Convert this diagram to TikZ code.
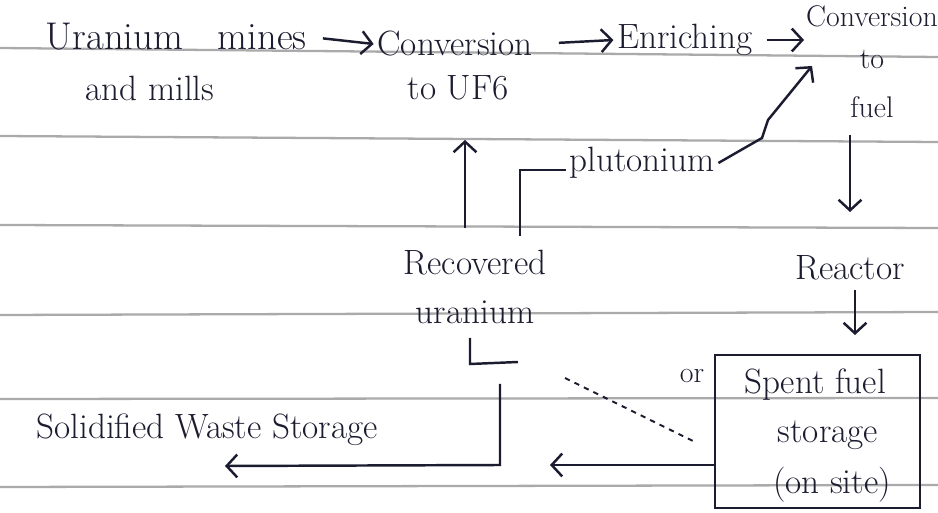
\documentclass[tikz,border=0pt]{standalone}
\usetikzlibrary{arrows.meta}
\definecolor{ink}{RGB}{28,28,48}
\definecolor{ruling}{RGB}{170,170,170}
\tikzset{
  lbl/.style={font=\fontsize{20}{38}\selectfont, text=ink, inner sep=2pt, align=center},
  small/.style={font=\fontsize{17}{36}\selectfont, text=ink, inner sep=1pt, align=center},
  flow/.style={draw=ink, line width=1.4pt, -{Straight Barb[length=6pt,width=13pt,line width=1.4pt]}},
  stroke/.style={draw=ink, line width=1.4pt},
  ruleline/.style={draw=ruling, line width=1.3pt},
  storebox/.style={draw=ink, line width=1.3pt, minimum width=4.1cm, minimum height=3.06cm, inner sep=0pt}
}
\begin{document}
\begin{tikzpicture}[x=0.02cm,y=-0.02cm]
\useasboundingbox (0,0) rectangle (938,513);
\fill[white] (0,0) rectangle (938,513);
% ruled paper
\draw[ruleline] (0,48) -- (938,57);
\draw[ruleline] (0,136) -- (938,142);
\draw[ruleline] (0,225) -- (938,228);
\draw[ruleline] (0,315) -- (938,312);
\draw[ruleline] (0,399) -- (938,398);
\draw[ruleline] (0,487) -- (938,485);

% nodes
\node[lbl, anchor=west, font=\fontsize{22}{38}\selectfont] (mines) at (42,37) {Uranium\hspace{0.9em}mines};
\node[lbl] (mills) at (150,88) {and mills};
\node[lbl] (conv) at (455,44) {Conversion};
\node[lbl] (uf6) at (458,88) {to UF6};
\node[lbl] (enr) at (685,40) {Enriching};
\node[small] (cfuel) at (872,62) {Conversion\\[-12pt]to\\[-8pt]fuel};
\node[lbl] (reactor) at (850,268) {Reactor};
\node[lbl] (rec) at (475,287) {Recovered\\[-10pt]uranium};
\node[storebox] (box) at (817.5,431.5) {};
\node[lbl] (spent) at (815,385) {Spent fuel};
\node[lbl] (stor) at (828,435) {storage};
\node[lbl] (site) at (832,485) {(on site)};
\node[small] (or) at (692,376) {or};
\node[lbl] (pu) at (642,163) {plutonium};
\node[lbl] (waste) at (207,430) {Solidified Waste Storage};

% top row arrows
\draw[flow, shorten <=0.25cm] (mines.east) -- (conv.west);
\draw[flow, shorten <=0.45cm] (conv.east) -- (enr.west);
\draw[flow, shorten <=0.2cm] (enr.east) -- (cfuel.west |- enr.east);
% fuel -> reactor -> storage
\coordinate (fTop) at (850,135);
\coordinate (fTip) at (850,212);
\draw[flow] (fTop) -- (fTip);
\coordinate (rTip) at (855,335);
\draw[flow] (reactor.south -| rTip) ++(0,6) -- (rTip);

% recovered uranium up to conversion
\coordinate (upTop) at (465,140);
\draw[flow] (rec.north -| upTop) ++(0,-18) -- (upTop);
% plutonium branch
\coordinate (pu0) at (520,236);
\coordinate (pu1) at (520,170);
\draw[stroke] (pu0) -- (pu1) -- (pu.west |- pu1);
\coordinate (puTip) at (812,66);
\draw[flow] (pu.east) -- (748,146) -- (762,138) -- (768,120) -- (puTip);

% L mark under recovered uranium
\draw[stroke] (470,338) -- (470,364) -- (518,362);
% waste route
\coordinate (w0) at (500,384);
\coordinate (w1) at (500,465);
\coordinate (wTip) at (225,466);
\draw[flow] (w0) -- (w1) -- (wTip);
% from storage box leftwards
\coordinate (bTip) at (550,465);
\draw[flow] (box.west |- bTip) -- (bTip);
% dashed hint
\coordinate (d0) at (565,378);
\coordinate (d1) at (695,442);
\draw[stroke, dashed, line width=1.1pt] (d0) -- (d1);
\end{tikzpicture}
\end{document}
